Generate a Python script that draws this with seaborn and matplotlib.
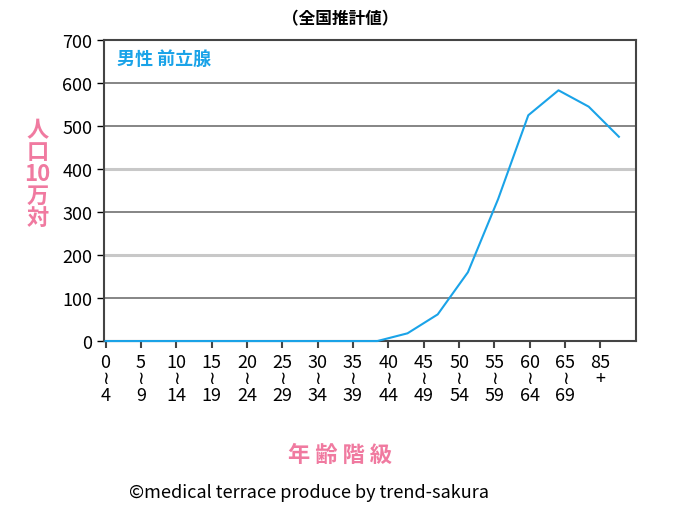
import matplotlib
matplotlib.use("Agg")
import matplotlib.pyplot as plt
import seaborn as sns
import pandas as pd
import numpy as np

plt.rcParams["font.family"] = ["Noto Sans CJK JP", "DejaVu Sans"]

age_groups = ["0-4","5-9","10-14","15-19","20-24","25-29","30-34","35-39","40-44",
              "45-49","50-54","55-59","60-64","65-69","70-74","75-79","80-84","85+"]
rates = [0,0,0,0,0,0,0,0,0,0,18,62,160,330,525,583,545,475]
tick_labels = ["0\n≀\n4","5\n≀\n9","10\n≀\n14","15\n≀\n19","20\n≀\n24","25\n≀\n29",
               "30\n≀\n34","35\n≀\n39","40\n≀\n44","45\n≀\n49","50\n≀\n54","55\n≀\n59",
               "60\n≀\n64","65\n≀\n69","85\n+"]

df = pd.DataFrame({"idx": np.arange(len(age_groups)), "rate": rates})

fig = plt.figure(figsize=(6.8, 5.06), dpi=100)
ax = fig.add_axes([0.153, 0.324, 0.782, 0.595])
blue = "#1aa3e8"
sns.lineplot(data=df, x="idx", y="rate", ax=ax, color=blue, linewidth=1.5, clip_on=False, zorder=3)

ax.set_ylim(0, 700)
ax.set_xlim(-0.05, 17.56)
for y in range(100, 700, 100):
    c = "#c8c8c8" if y in (200, 400) else "#858585"
    ax.axhline(y, color=c, linewidth=2.2 if y in (200, 400) else 1.4, zorder=0)
ax.set_yticks(range(0, 701, 100))
ax.tick_params(axis="y", length=5, labelsize=13, width=1)
step = 17.56 / 15
ax.set_xticks([k * step for k in range(15)])
ax.set_xticklabels(tick_labels, fontsize=13, linespacing=0.9)
ax.tick_params(axis="x", length=5, width=1.5, colors="#444444", labelcolor="black")
for s in ax.spines.values():
    s.set_color("#444444")
    s.set_linewidth(1.5)
ax.set_xlabel("")
ax.set_ylabel("")

fig.text(0.5, 0.962, "（全国推計値）", ha="center", va="center", fontsize=12, fontweight="bold")
ax.text(0.025, 0.94, "男性 前立腺", transform=ax.transAxes, color=blue,
        fontsize=13, fontweight="bold", va="center")
fig.text(0.055, 0.655, "人\n口\n10\n万\n対", ha="center", va="center",
         color="#f07aa0", fontsize=16, fontweight="bold", linespacing=0.95)
fig.text(0.5, 0.1, "年 齢 階 級", ha="center", va="center", color="#f07aa0",
         fontsize=16, fontweight="bold")
fig.text(0.455, 0.026, "©medical terrace produce by trend-sakura", ha="center",
         va="center", fontsize=13)

fig.savefig("out.png", dpi=100)
